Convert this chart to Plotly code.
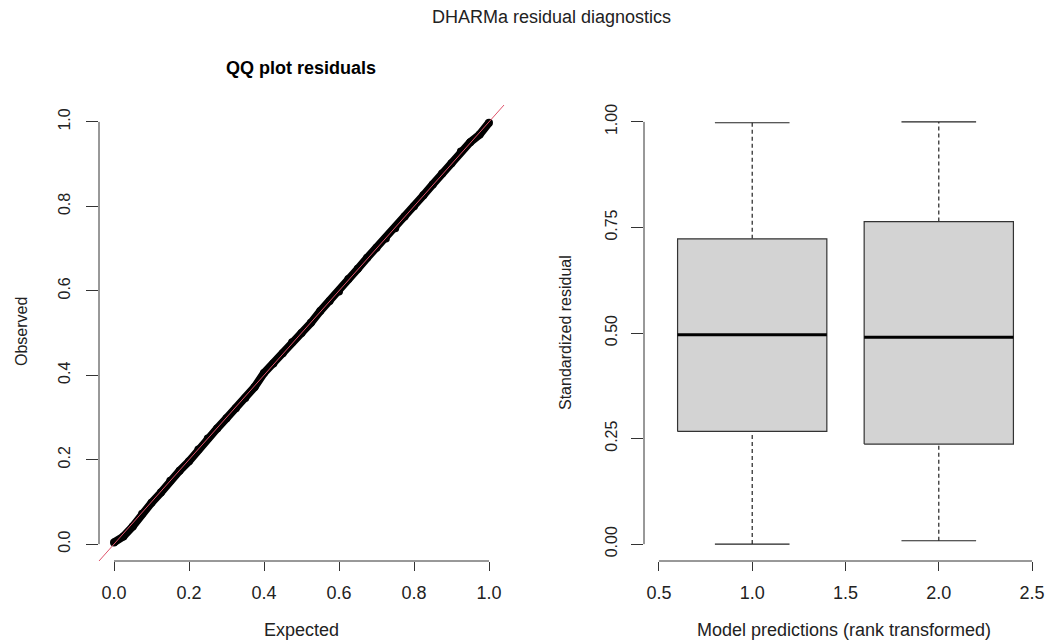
import plotly.graph_objects as go

# ---------------- data ----------------
qq_expected = [0.0, 0.025, 0.05, 0.075, 0.10, 0.125, 0.15, 0.175, 0.20, 0.225,
               0.25, 0.275, 0.30, 0.325, 0.35, 0.375, 0.40, 0.425, 0.45, 0.475,
               0.50, 0.525, 0.55, 0.575, 0.60, 0.625, 0.65, 0.675, 0.70, 0.725,
               0.75, 0.775, 0.80, 0.825, 0.85, 0.875, 0.90, 0.925, 0.95, 0.975, 1.0]
qq_observed = [0.004, 0.018, 0.042, 0.072, 0.098, 0.122, 0.150, 0.174, 0.196, 0.224,
               0.250, 0.274, 0.298, 0.322, 0.346, 0.372, 0.405, 0.428, 0.452, 0.478,
               0.500, 0.524, 0.552, 0.576, 0.598, 0.628, 0.652, 0.678, 0.702, 0.724,
               0.748, 0.776, 0.800, 0.826, 0.852, 0.878, 0.902, 0.930, 0.952, 0.970, 0.998]

box_groups = [1, 2]
box_lower_whisker = [0.0, 0.008]
box_q1 = [0.267, 0.237]
box_median = [0.496, 0.490]
box_q3 = [0.723, 0.764]
box_upper_whisker = [0.998, 1.0]
box_half_width = 0.4
cap_half_width = 0.2

qq_xticks = [0.0, 0.2, 0.4, 0.6, 0.8, 1.0]
qq_yticks = [0.0, 0.2, 0.4, 0.6, 0.8, 1.0]
box_xticks = [0.5, 1.0, 1.5, 2.0, 2.5]
box_yticks = [0.0, 0.25, 0.50, 0.75, 1.00]

W, H = 1050, 642
FONT = "Liberation Sans, Arial, sans-serif"
AX = "#333333"
TXT = "#222222"

def px_x(p):
    return p / W

def px_y(p):
    return 1 - p / H

fig = go.Figure()

# ---------------- QQ plot ----------------
fig.add_trace(go.Scatter(
    x=qq_expected, y=qq_observed, mode="lines+markers",
    line=dict(color="black", width=8),
    marker=dict(color="black", size=8),
    xaxis="x", yaxis="y", showlegend=False, hoverinfo="x+y"))

# ---------------- boxplots ----------------
for i, g in enumerate(box_groups):
    xl, xr = g - box_half_width, g + box_half_width
    # whiskers (dashed)
    fig.add_trace(go.Scatter(
        x=[g, g, None, g, g],
        y=[box_lower_whisker[i], box_q1[i], None, box_q3[i], box_upper_whisker[i]],
        mode="lines", line=dict(color="#222222", width=1.2, dash="4px,3px"),
        xaxis="x2", yaxis="y2", showlegend=False, hoverinfo="skip"))
    # caps
    fig.add_trace(go.Scatter(
        x=[g - cap_half_width, g + cap_half_width, None, g - cap_half_width, g + cap_half_width],
        y=[box_lower_whisker[i], box_lower_whisker[i], None, box_upper_whisker[i], box_upper_whisker[i]],
        mode="lines", line=dict(color="#222222", width=1.2),
        xaxis="x2", yaxis="y2", showlegend=False, hoverinfo="skip"))
    # box
    fig.add_trace(go.Scatter(
        x=[xl, xr, xr, xl, xl],
        y=[box_q1[i], box_q1[i], box_q3[i], box_q3[i], box_q1[i]],
        mode="lines", fill="toself", fillcolor="#D3D3D3",
        line=dict(color="#333333", width=1.2),
        xaxis="x2", yaxis="y2", showlegend=False, hoverinfo="skip"))
    # median
    fig.add_trace(go.Scatter(
        x=[xl, xr], y=[box_median[i], box_median[i]],
        mode="lines", line=dict(color="black", width=3),
        xaxis="x2", yaxis="y2", showlegend=False, hoverinfo="skip"))

ydom = [px_y(561), px_y(105)]
xtickfont = dict(family=FONT, size=18, color=TXT)
ytickfont = dict(family=FONT, size=16, color=TXT)

common = dict(showgrid=False, zeroline=False, showline=False, ticks="outside",
              tickcolor=AX, tickwidth=1)

fig.update_layout(
    width=W, height=H,
    margin=dict(l=0, r=0, t=0, b=0),
    paper_bgcolor="white", plot_bgcolor="white",
    showlegend=False,
    xaxis=dict(domain=[px_x(99), px_x(504)], range=[-0.04, 1.04],
               tickvals=qq_xticks, ticktext=[f"{v:.1f}" for v in qq_xticks],
               ticklen=9, ticklabelstandoff=6, anchor="y", tickfont=xtickfont, **common),
    yaxis=dict(domain=ydom, range=[-0.04, 1.04],
               tickvals=qq_yticks, ticktext=[f"{v:.1f}" for v in qq_yticks],
               ticklen=12, tickangle=-90, ticklabelstandoff=10, anchor="x",
               tickfont=ytickfont, **common),
    xaxis2=dict(domain=[px_x(644), px_x(1047)], range=[0.42, 2.58],
                tickvals=box_xticks, ticktext=[f"{v:.1f}" for v in box_xticks],
                ticklen=9, ticklabelstandoff=6, anchor="y2", tickfont=xtickfont, **common),
    yaxis2=dict(domain=ydom, range=[-0.04, 1.04],
                tickvals=box_yticks, ticktext=[f"{v:.2f}" for v in box_yticks],
                ticklen=12, tickangle=-90, ticklabelstandoff=8, anchor="x2",
                tickfont=ytickfont, **common),
)

# R-style axis lines spanning the tick range only
shapes = [
    dict(type="line", xref="x", yref="y domain", x0=qq_xticks[0], x1=qq_xticks[-1], y0=0, y1=0,
         line=dict(color=AX, width=1)),
    dict(type="line", xref="x domain", yref="y", x0=0, x1=0, y0=qq_yticks[0], y1=qq_yticks[-1],
         line=dict(color=AX, width=1)),
    dict(type="line", xref="x2", yref="y2 domain", x0=box_xticks[0], x1=box_xticks[-1], y0=0, y1=0,
         line=dict(color=AX, width=1)),
    dict(type="line", xref="x2 domain", yref="y2", x0=0, x1=0, y0=box_yticks[0], y1=box_yticks[-1],
         line=dict(color=AX, width=1)),
    # reference line y = x across the QQ plot region
    dict(type="line", xref="x domain", yref="y domain", x0=0, y0=0, x1=1, y1=1,
         line=dict(color="#DF536B", width=1), layer="above"),
]
fig.update_layout(shapes=shapes)

hfont = dict(family=FONT, size=18, color=TXT)
vfont = dict(family=FONT, size=16, color=TXT)
annotations = [
    dict(text="DHARMa residual diagnostics", x=px_x(551), y=px_y(17), xref="paper", yref="paper",
         showarrow=False, xanchor="center", yanchor="middle",
         font=dict(family=FONT, size=18, color=TXT)),
    dict(text="<b>QQ plot residuals</b>", x=px_x(301), y=px_y(68), xref="paper", yref="paper",
         showarrow=False, xanchor="center", yanchor="middle",
         font=dict(family=FONT, size=18, color="black")),
    dict(text="Expected", x=px_x(301), y=px_y(630), xref="paper", yref="paper",
         showarrow=False, xanchor="center", yanchor="middle", font=hfont),
    dict(text="Observed", x=px_x(22), y=px_y(332), xref="paper", yref="paper",
         showarrow=False, xanchor="center", yanchor="middle", textangle=-90, font=vfont),
    dict(text="Model predictions (rank transformed)", x=px_x(844), y=px_y(630), xref="paper",
         yref="paper", showarrow=False, xanchor="center", yanchor="middle", font=hfont),
    dict(text="Standardized residual", x=px_x(565), y=px_y(333), xref="paper", yref="paper",
         showarrow=False, xanchor="center", yanchor="middle", textangle=-90, font=vfont),
]
fig.update_layout(annotations=annotations)

fig.write_html("out.html",
               config={"displayModeBar": False},
               post_script="document.body.style.margin='0';document.body.style.overflow='hidden';")
